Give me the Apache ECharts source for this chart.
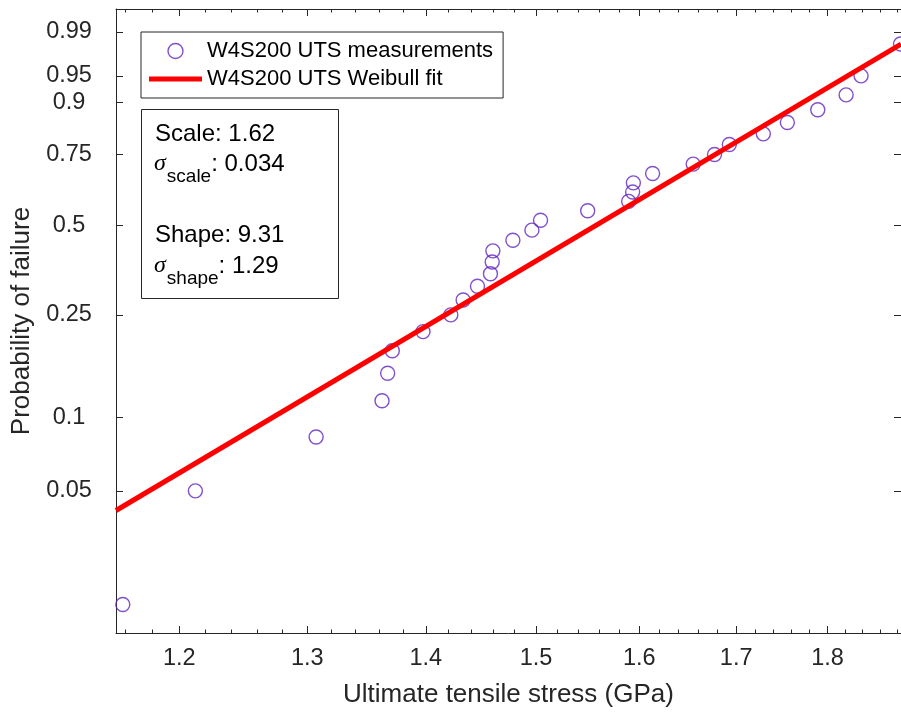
<!DOCTYPE html>
<html>
<head>
<meta charset="utf-8">
<script src="https://cdn.jsdelivr.net/npm/echarts@6/dist/echarts.min.js"></script>
<style>
  html, body { margin: 0; padding: 0; background: #ffffff; }
  #chart { width: 901px; height: 713px; }
</style>
</head>
<body>
<div id="chart"></div>
<script>
// Ultimate tensile stress of the W4S200 specimens (GPa), sorted
const stressGPa = [
  1.1583, 1.2121, 1.3072, 1.3622, 1.3670, 1.3710, 1.3976, 1.4221, 1.4331, 1.4460,
  1.4578, 1.4594, 1.4600, 1.4784, 1.4961, 1.5042, 1.5492, 1.5894, 1.5934, 1.5941,
  1.6134, 1.6549, 1.6771, 1.6927, 1.7291, 1.7553, 1.7890, 1.8210, 1.8381, 1.8841
];
// Plotting positions (probability of failure) for each specimen
const failureProb = [
  0.0167, 0.0500, 0.0833, 0.1167, 0.1500, 0.1833, 0.2167, 0.2500, 0.2833, 0.3167,
  0.3500, 0.3833, 0.4167, 0.4500, 0.4833, 0.5167, 0.5500, 0.5833, 0.6167, 0.6500,
  0.6833, 0.7167, 0.7500, 0.7833, 0.8167, 0.8500, 0.8833, 0.9167, 0.9500, 0.9833
];
// Weibull fit parameters and their standard errors
const fitScale = 1.62;
const fitScaleSigma = 0.034;
const fitShape = 9.31;
const fitShapeSigma = 1.29;

// Axis ticks and limits
const xTickLabels = [1.2, 1.3, 1.4, 1.5, 1.6, 1.7, 1.8];
const xMinorTicks = [
  1.16, 1.18, 1.22, 1.24, 1.26, 1.28, 1.32, 1.34, 1.36, 1.38,
  1.42, 1.44, 1.46, 1.48, 1.52, 1.54, 1.56, 1.58, 1.62, 1.64,
  1.66, 1.68, 1.72, 1.74, 1.76, 1.78, 1.82, 1.84, 1.86, 1.88
];
const yTickLabels = [0.05, 0.1, 0.25, 0.5, 0.75, 0.9, 0.95, 0.99];
const stressRange = [1.1534, 1.8846];
const probRange = [0.012656, 0.996873];

// Weibull probability paper: log stress vs. log(-log(1 - p))
const lnS = s => Math.log(s);
const weib = p => Math.log(-Math.log(1 - p));

const INK = '#262626';
const FONT = '"Liberation Sans", Arial, Helvetica, sans-serif';
const SERIF = '"Liberation Serif", "Times New Roman", serif';
const PURPLE = '#6024c2';
const RED = '#ff0000';
const NAME_MEAS = 'W4S200 UTS measurements';
const NAME_FIT = 'W4S200 UTS Weibull fit';

const points = stressGPa.map((s, i) => [lnS(s), weib(failureProb[i])]);
const fitLine = stressRange.map(s => [lnS(s), fitShape * (lnS(s) - lnS(fitScale))]);

const xMajorVals = xTickLabels.map(lnS);
const xMinorVals = xMinorTicks.map(lnS);
const yMajorVals = yTickLabels.map(weib);

function nearestProbLabel(v) {
  const p = 1 - Math.exp(-Math.exp(v));
  let best = yTickLabels[0];
  yTickLabels.forEach(t => { if (Math.abs(t - p) < Math.abs(best - p)) best = t; });
  return String(best);
}

function xAxisDef(position, tickVals, tickLen, main) {
  const labelled = main && position === 'bottom';
  return {
    type: 'value', position: position,
    min: lnS(stressRange[0]), max: lnS(stressRange[1]),
    axisLine: { show: main, onZero: false, lineStyle: { color: INK, width: 1 } },
    axisTick: { show: true, inside: true, length: tickLen, customValues: tickVals,
                lineStyle: { color: INK, width: 1 } },
    axisLabel: labelled ? {
      show: true, customValues: xMajorVals, margin: 14,
      formatter: v => Math.exp(v).toFixed(1),
      fontSize: 23.5, color: INK, fontFamily: FONT
    } : { show: false },
    splitLine: { show: false },
    name: labelled ? 'Ultimate tensile stress (GPa)' : '',
    nameLocation: 'middle', nameGap: 49,
    nameTextStyle: { fontSize: 26, color: INK, fontFamily: FONT }
  };
}

function yAxisDef(position) {
  const left = position === 'left';
  return {
    type: 'value', position: position,
    min: weib(probRange[0]), max: weib(probRange[1]),
    axisLine: { show: true, onZero: false, lineStyle: { color: INK, width: 1 } },
    axisTick: { show: true, inside: true, length: 7, customValues: yMajorVals,
                lineStyle: { color: INK, width: 1 } },
    axisLabel: left ? {
      show: true, customValues: yMajorVals, margin: 47, align: 'center',
      formatter: nearestProbLabel,
      fontSize: 23.5, color: INK, fontFamily: FONT
    } : { show: false },
    splitLine: { show: false },
    name: left ? 'Probability of failure' : '',
    nameLocation: 'middle', nameGap: 80, nameRotate: 90,
    nameTextStyle: { fontSize: 26, color: INK, fontFamily: FONT }
  };
}

const chart = echarts.init(document.getElementById('chart'), null, { renderer: 'canvas' });

// Text box styles: plain text, italic sigma and a lowered subscript
const boxRich = {
  txt: { fontSize: 24, lineHeight: 24, verticalAlign: 'top', color: '#000', fontFamily: FONT },
  sig: { fontSize: 24, lineHeight: 24, verticalAlign: 'top', color: '#000',
         fontFamily: SERIF, fontStyle: 'italic', padding: [0, 1, 0, 0] },
  sub: { fontSize: 19, lineHeight: 19, verticalAlign: 'top', color: '#000', fontFamily: FONT,
         padding: [15, 0, 0, 0] }
};

chart.setOption({
  animation: false,
  backgroundColor: '#ffffff',
  grid: { left: 116, top: 9, width: 786, height: 625, containLabel: false },
  xAxis: [
    xAxisDef('bottom', xMajorVals, 7, true),
    xAxisDef('bottom', xMinorVals, 3.5, false),
    xAxisDef('top', xMajorVals, 7, true),
    xAxisDef('top', xMinorVals, 3.5, false)
  ],
  yAxis: [yAxisDef('left'), yAxisDef('right')],
  legend: {
    orient: 'vertical', left: 141, top: 32,
    padding: [8, 10, 8, 8], itemGap: 6, itemWidth: 53, itemHeight: 15,
    backgroundColor: '#ffffff', borderColor: INK, borderWidth: 1, borderRadius: 0,
    symbolKeepAspect: true,
    textStyle: { fontSize: 22, color: '#000', fontFamily: FONT },
    data: [
      { name: NAME_MEAS, icon: 'circle',
        itemStyle: { color: 'rgba(0,0,0,0)', borderColor: PURPLE, borderWidth: 1.4 } },
      { name: NAME_FIT, icon: 'path://M0,0H53V5H0Z',
        itemStyle: { color: RED, borderWidth: 0 } }
    ]
  },
  series: [
    {
      name: NAME_MEAS, type: 'scatter', xAxisIndex: 0, yAxisIndex: 0,
      symbol: 'circle', symbolSize: 14, z: 2,
      itemStyle: { color: 'rgba(0,0,0,0)', borderColor: PURPLE, borderWidth: 1.4 },
      emphasis: { disabled: true },
      data: points
    },
    {
      name: NAME_FIT, type: 'line', xAxisIndex: 0, yAxisIndex: 0,
      symbol: 'none', z: 3,
      lineStyle: { color: RED, width: 5 },
      emphasis: { disabled: true },
      data: fitLine
    }
  ],
  graphic: [
    {
      type: 'group', left: 141, top: 109, z: 100,
      children: [
        { type: 'rect', shape: { x: 0.5, y: 0.5, width: 197, height: 189 },
          style: { fill: '#ffffff', stroke: INK, lineWidth: 1 } },
        { type: 'text', x: 14, y: 13,
          style: { text: '{txt|Scale: ' + fitScale.toFixed(2) + '}', rich: boxRich } },
        { type: 'text', x: 13, y: 43,
          style: { text: '{sig|σ}{sub|scale}{txt|: ' + fitScaleSigma + '}', rich: boxRich } },
        { type: 'text', x: 14, y: 114,
          style: { text: '{txt|Shape: ' + fitShape.toFixed(2) + '}', rich: boxRich } },
        { type: 'text', x: 13, y: 145,
          style: { text: '{sig|σ}{sub|shape}{txt|: ' + fitShapeSigma + '}', rich: boxRich } }
      ]
    }
  ]
});
</script>
</body>
</html>
